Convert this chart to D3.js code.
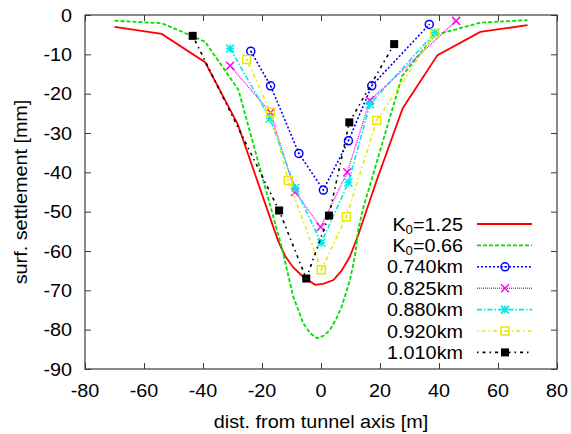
<!DOCTYPE html>
<html><head><meta charset="utf-8">
<script src="https://cdn.jsdelivr.net/npm/d3@7"></script>
<style>body{margin:0;background:#fff}svg{display:block}text{font-family:"Liberation Sans",Arial,sans-serif;fill:#000}</style>
</head><body><div id="chart"></div>
<script>
// ---------- data ----------
const xTicks = [-80, -60, -40, -20, 0, 20, 40, 60, 80];
const yTicks = [0, -10, -20, -30, -40, -50, -60, -70, -80, -90];
const seriesNames = ["K0=1.25", "K0=0.66", "0.740km", "0.825km", "0.880km", "0.920km", "1.010km"];
const k125X = [-70, -54, -39.3, -28.2, -19.6, -14.5, -12, -9.4, -6, -2, 1, 4.2, 7, 9.8, 12.6, 15.5, 18.9, 27.7, 39.5, 54, 70];
const k125Y = [-3.0, -4.8, -12.0, -27.8, -46.5, -57.5, -61.5, -64.2, -66.6, -68.6, -68.3, -67.4, -65.0, -61.4, -56.0, -49.5, -42.0, -23.7, -10.2, -4.3, -2.6];
const k066X = [-70, -54, -44.4, -39.3, -28, -19, -15, -13.5, -9.4, -6, -3.5, -1.3, 1, 3, 5, 7, 9.8, 11.5, 12.6, 14.3, 27.5, 38.6, 54, 70];
const k066Y = [-1.45, -2.1, -5.1, -6.8, -19.0, -43.6, -54.5, -58.5, -71.6, -78.4, -81.0, -82.2, -81.5, -80.1, -77.5, -74.2, -67.4, -61.4, -54.7, -49.1, -15.5, -5.1, -1.95, -1.3];
const m740X = [-23.8, -17.1, -7.5, 0.8, 9.3, 17.2, 36.7];
const m740Y = [-9.2, -18.0, -35.2, -44.5, -32.0, -18.0, -2.4];
const m825X = [-30.8, -17.1, -8.8, -0.1, 8.9, 16.6, 45.8];
const m825Y = [-12.9, -24.8, -45.0, -53.9, -40.0, -21.7, -1.5];
const m880X = [-30.8, -17.3, -8.7, 0.1, 9.3, 16.6, 38.6];
const m880Y = [-8.5, -26.3, -44.0, -57.9, -42.6, -22.7, -4.5];
const m920X = [-25.2, -17.1, -11.1, 0.1, 8.6, 18.9, 38.6];
const m920Y = [-11.3, -24.7, -42.1, -64.8, -51.3, -26.8, -4.7];
const m1010X = [-43.5, -14.2, -5.0, 2.7, 9.6, 24.8];
const m1010Y = [-5.3, -49.7, -67.0, -51.0, -27.3, -7.4];

// ---------- styles ----------
const styles = [
  {xs: k125X, ys: k125Y, color: "#ff0000", dash: null, width: 1.8, marker: null},
  {xs: k066X, ys: k066Y, color: "#00e000", dash: "4,2", width: 1.8, marker: null},
  {xs: m740X, ys: m740Y, color: "#0000ff", dash: "2,2", width: 1.6, marker: "circle"},
  {xs: m825X, ys: m825Y, color: "#ff00ff", dash: "1,1", width: 1.4, marker: "x"},
  {xs: m880X, ys: m880Y, color: "#00e8e8", dash: "5,2,1.5,2", width: 1.6, marker: "star"},
  {xs: m920X, ys: m920Y, color: "#e8e800", dash: "1.5,3,4,3", width: 1.6, marker: "square"},
  {xs: m1010X, ys: m1010Y, color: "#000000", dash: "1.5,4,3,4", width: 1.6, marker: "fsquare"}
];

const W = 571, H = 434;
const L = 85, R = 557, T = 15, B = 369;
const x = d3.scaleLinear().domain([-80, 80]).range([L, R]);
const y = d3.scaleLinear().domain([-90, 0]).range([B, T]);
const svg = d3.select("#chart").append("svg").attr("width", W).attr("height", H);
const FS = 18, SX = 1.1;
const frameColor = "#3a3a3a";

function txt(g, px, py, s, anchor, rot) {
  return g.append("text")
    .attr("transform", `translate(${px},${py})` + (rot ? ` rotate(${rot})` : "") + ` scale(${SX},1)`)
    .attr("text-anchor", anchor).attr("font-size", FS).text(s);
}

// axes (ticks inside, mirrored)
const tk = 6;
const gx = svg.append("g").attr("transform", `translate(0,${B})`).call(d3.axisBottom(x).tickValues(xTicks).tickSize(-tk).tickFormat(""));
const gxt = svg.append("g").attr("transform", `translate(0,${T})`).call(d3.axisTop(x).tickValues(xTicks).tickSize(-tk).tickFormat(""));
const gy = svg.append("g").attr("transform", `translate(${L},0)`).call(d3.axisLeft(y).tickValues(yTicks).tickSize(-tk).tickFormat(""));
const gyr = svg.append("g").attr("transform", `translate(${R},0)`).call(d3.axisRight(y).tickValues(yTicks).tickSize(-tk).tickFormat(""));
[gx, gxt, gy, gyr].forEach(g => { g.select(".domain").remove(); g.selectAll("line").attr("stroke", frameColor).attr("stroke-width", 1); });
svg.append("rect").attr("x", L).attr("y", T).attr("width", R - L).attr("height", B - T)
  .attr("fill", "none").attr("stroke", frameColor).attr("stroke-width", 1.2);

const labels = svg.append("g");
xTicks.forEach(v => txt(labels, x(v), 397, String(v), "middle"));
yTicks.forEach(v => txt(labels, 72, y(v) + 6.5, String(v), "end"));
txt(labels, (L + R) / 2, 428, "dist. from tunnel axis [m]", "middle");
txt(labels, 27, (T + B) / 2, "surf. settlement [mm]", "middle", -90);

// markers
function drawMarker(g, type, cx, cy, color) {
  const s = 4;
  if (type === "circle") {
    g.append("circle").attr("cx", cx).attr("cy", cy).attr("r", s).attr("fill", "none").attr("stroke", color).attr("stroke-width", 1.5);
    g.append("circle").attr("cx", cx).attr("cy", cy).attr("r", 0.8).attr("fill", color);
  } else if (type === "x") {
    g.append("path").attr("d", `M${cx-s},${cy-s}L${cx+s},${cy+s}M${cx-s},${cy+s}L${cx+s},${cy-s}`).attr("stroke", color).attr("stroke-width", 1.5);
  } else if (type === "star") {
    g.append("path").attr("d", `M${cx-s},${cy-s}L${cx+s},${cy+s}M${cx-s},${cy+s}L${cx+s},${cy-s}M${cx-s},${cy}L${cx+s},${cy}M${cx},${cy-s}L${cx},${cy+s}`).attr("stroke", color).attr("stroke-width", 1.5);
  } else if (type === "square") {
    g.append("rect").attr("x", cx - s).attr("y", cy - s).attr("width", 2 * s).attr("height", 2 * s).attr("fill", "none").attr("stroke", color).attr("stroke-width", 1.5);
    g.append("circle").attr("cx", cx).attr("cy", cy).attr("r", 0.8).attr("fill", color);
  } else if (type === "fsquare") {
    g.append("rect").attr("x", cx - s).attr("y", cy - s).attr("width", 2 * s).attr("height", 2 * s).attr("fill", color);
  }
}

const line = d3.line().x(d => x(d[0])).y(d => y(d[1]));
const plot = svg.append("g");
styles.forEach(st => {
  const pts = st.xs.map((v, i) => [v, st.ys[i]]);
  plot.append("path").datum(pts).attr("d", line).attr("fill", "none")
    .attr("stroke", st.color).attr("stroke-width", st.width)
    .attr("stroke-dasharray", st.dash);
  if (st.marker) pts.forEach(p => drawMarker(plot, st.marker, x(p[0]), y(p[1]), st.color));
});

// legend
const leg = svg.append("g");
const ly0 = 224, ldy = 21.4, lx1 = 477, lx2 = 532, ltx = 463;
styles.forEach((st, i) => {
  const yy = ly0 + i * ldy;
  leg.append("line").attr("x1", lx1).attr("x2", lx2).attr("y1", yy).attr("y2", yy)
    .attr("stroke", st.color).attr("stroke-width", st.width).attr("stroke-dasharray", st.dash);
  if (st.marker) drawMarker(leg, st.marker, (lx1 + lx2) / 2 + 0.5, yy, st.color);
  const name = seriesNames[i];
  const t = leg.append("text")
    .attr("transform", `translate(${ltx},${yy + 6.5}) scale(${SX},1)`)
    .attr("text-anchor", "end").attr("font-size", FS);
  if (name.startsWith("K0")) {
    t.append("tspan").text("K");
    t.append("tspan").attr("font-size", 12).attr("dy", 3).text("0");
    t.append("tspan").attr("dy", -3).text(name.slice(2));
  } else {
    t.text(name);
  }
});
</script>
</body></html>
